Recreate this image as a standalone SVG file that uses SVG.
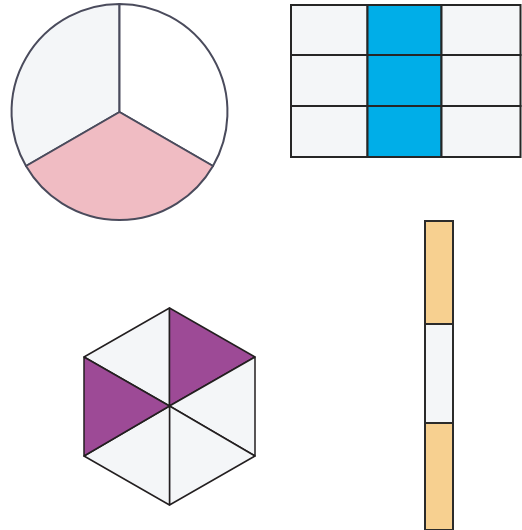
<svg xmlns="http://www.w3.org/2000/svg" width="522" height="530" viewBox="0 0 522 530">
<style>
.pie{stroke:#4a4b5c;stroke-width:2;stroke-linejoin:round}
.grid{stroke:#262626;stroke-width:2}
.hex{stroke:#231f20;stroke-width:1.5;stroke-linejoin:round}
.bar{stroke:#2b2b2b;stroke-width:2}
.lt{fill:#f4f6f8}
.wh{fill:#ffffff}
.pk{fill:#f0bcc3}
.bl{fill:#00aee8}
.pu{fill:#9d4a96}
.or{fill:#f7d090}
</style>
<g id="pie">
<path class="pie lt" d="M119.5,112 L119.5,4 A108,108 0 0 0 26,166 Z"/>
<path class="pie wh" d="M119.5,112 L119.5,4 A108,108 0 0 1 213,166 Z"/>
<path class="pie pk" d="M119.5,112 L26,166 A108,108 0 0 0 213,166 Z"/>
</g>
<g id="grid">
<rect class="grid lt" x="291" y="5" width="76.5" height="50"/>
<rect class="grid bl" x="367.5" y="5" width="74" height="50"/>
<rect class="grid lt" x="441.5" y="5" width="79" height="50"/>
<rect class="grid lt" x="291" y="55" width="76.5" height="51"/>
<rect class="grid bl" x="367.5" y="55" width="74" height="51"/>
<rect class="grid lt" x="441.5" y="55" width="79" height="51"/>
<rect class="grid lt" x="291" y="106" width="76.5" height="51"/>
<rect class="grid bl" x="367.5" y="106" width="74" height="51"/>
<rect class="grid lt" x="441.5" y="106" width="79" height="51"/>
</g>
<g id="hexagon">
<polygon class="hex lt" points="169.5,406 169.5,308 84,357"/>
<polygon class="hex pu" points="169.5,406 169.5,308 255,357"/>
<polygon class="hex lt" points="169.5,406 255,357 255,456"/>
<polygon class="hex lt" points="169.5,406 255,456 169.5,505"/>
<polygon class="hex lt" points="169.5,406 169.5,505 84,456"/>
<polygon class="hex pu" points="169.5,406 84,456 84,357"/>
</g>
<g id="bar">
<rect class="bar or" x="425" y="221" width="28" height="103"/>
<rect class="bar lt" x="425" y="324" width="28" height="99"/>
<rect class="bar or" x="425" y="423" width="28" height="107"/>
</g>
<g id="connectors"></g>
</svg>
